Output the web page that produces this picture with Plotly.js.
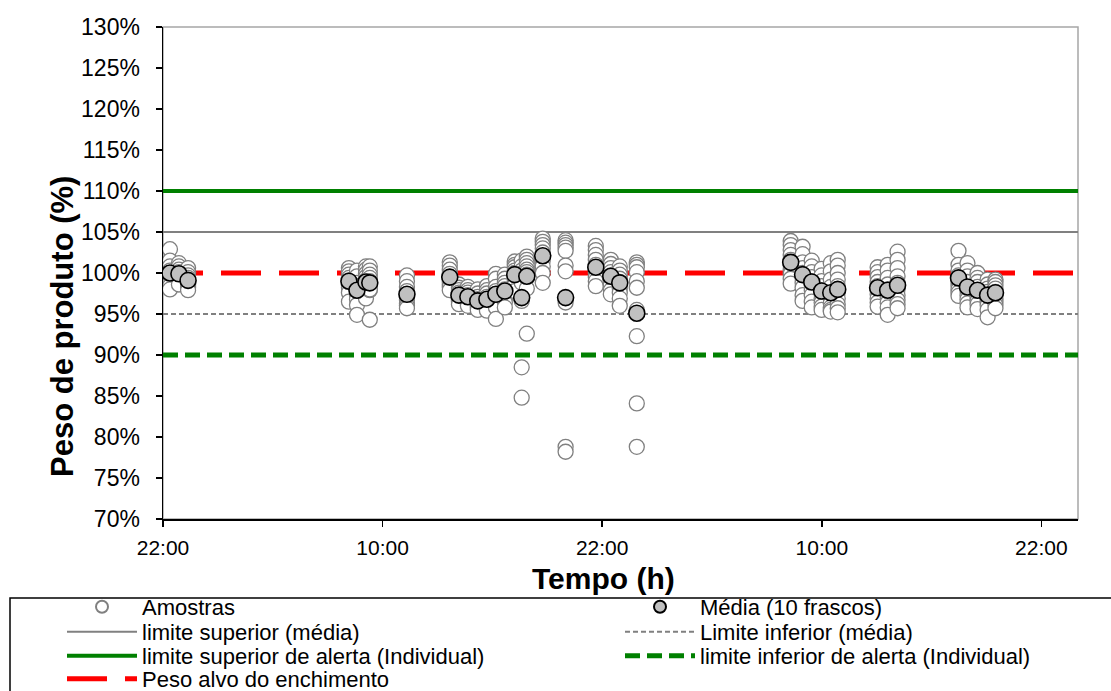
<!DOCTYPE html>
<html>
<head>
<meta charset="utf-8">
<script src="https://cdn.plot.ly/plotly-3.0.1.min.js"></script>
<style>html,body{margin:0;padding:0;background:#fff;}#chart{width:1111px;height:691px;}</style>
</head>
<body>
<div id="chart"></div>
<script>
// Time of each column of 10 samples (hours after the first 22:00)
const sampleTimes = [0.38, 0.87, 1.37, 10.16, 10.6, 11.09, 11.3, 13.33, 15.67, 16.17, 16.66, 17.2, 17.7, 18.19, 18.68, 19.22, 19.6, 19.88, 20.75, 22.0, 23.65, 24.47, 24.96, 25.89, 34.3, 34.95, 35.45, 35.99, 36.49, 36.87, 39.05, 39.6, 40.14, 43.47, 43.96, 44.51, 45.06, 45.49];
// Individual samples (%) per column
const amostras = [
  [102.9, 101.5, 100.8, 100.3, 99.9, 99.6, 99.2, 98.8, 98.4, 98.0],
  [101.2, 100.8, 100.4, 100.1, 99.9, 99.7, 99.5, 99.2, 98.9, 98.6],
  [100.6, 100.1, 99.7, 99.4, 99.1, 98.9, 98.6, 98.4, 98.2, 97.9],
  [100.6, 100.2, 99.8, 99.4, 99.1, 98.8, 98.5, 98.2, 97.6, 96.5],
  [100.3, 99.6, 98.8, 98.4, 98.0, 97.7, 97.3, 96.8, 96.1, 94.9],
  [100.8, 100.4, 99.9, 99.5, 99.1, 98.8, 98.4, 97.9, 97.4, 96.9],
  [100.8, 100.3, 99.8, 99.4, 99.0, 98.6, 98.3, 97.9, 98.0, 94.3],
  [99.7, 99.0, 98.3, 97.8, 97.4, 97.1, 96.7, 96.3, 96.0, 95.7],
  [101.3, 100.9, 100.4, 99.9, 99.5, 99.2, 98.9, 98.6, 98.3, 97.9],
  [98.6, 98.2, 97.9, 97.6, 97.3, 97.1, 96.9, 96.7, 96.5, 96.2],
  [98.3, 97.9, 97.6, 97.3, 97.1, 96.9, 96.7, 96.5, 96.3, 96.0],
  [98.0, 97.5, 97.1, 96.8, 96.6, 96.4, 96.2, 96.0, 95.8, 95.5],
  [98.4, 97.9, 97.5, 97.1, 96.8, 96.5, 96.2, 95.9, 95.6, 95.4],
  [99.9, 99.3, 98.3, 97.8, 97.4, 97.1, 96.7, 96.3, 95.8, 94.4],
  [99.8, 99.3, 98.8, 98.4, 98.0, 97.6, 97.2, 96.8, 96.4, 95.8],
  [101.4, 101.0, 100.7, 100.3, 100.0, 99.7, 99.4, 99.0, 98.5, 97.8],
  [101.5, 100.8, 100.3, 99.9, 99.6, 99.2, 98.8, 96.6, 88.5, 84.8],
  [102.0, 101.6, 101.2, 100.8, 100.4, 100.1, 99.8, 99.4, 98.1, 92.6],
  [104.2, 103.8, 103.4, 103.0, 102.5, 102.0, 101.5, 100.8, 100.0, 98.8],
  [104.0, 103.7, 103.4, 103.1, 102.7, 100.9, 100.2, 96.4, 78.8, 78.2],
  [103.3, 102.8, 102.2, 101.6, 101.0, 100.5, 100.0, 99.5, 99.0, 98.4],
  [101.6, 101.1, 100.6, 100.1, 99.7, 99.3, 98.9, 98.5, 97.9, 97.4],
  [100.8, 100.3, 99.8, 99.3, 98.9, 98.5, 98.1, 97.6, 96.9, 96.0],
  [101.3, 101.0, 100.7, 100.1, 99.0, 98.2, 95.5, 92.3, 84.1, 78.8],
  [103.9, 103.4, 102.8, 102.2, 101.6, 101.0, 100.4, 99.9, 99.3, 98.7],
  [103.2, 102.3, 101.3, 100.6, 100.0, 99.4, 98.8, 98.2, 97.3, 96.6],
  [101.5, 100.8, 100.1, 99.5, 99.0, 98.5, 97.9, 97.3, 96.5, 95.8],
  [100.5, 99.7, 99.0, 98.4, 97.9, 97.4, 96.9, 96.4, 95.9, 95.5],
  [101.2, 100.2, 99.2, 98.3, 97.5, 96.9, 96.3, 95.8, 95.5, 95.3],
  [101.6, 100.9, 100.0, 99.2, 98.4, 97.6, 96.9, 96.2, 95.7, 95.2],
  [100.7, 100.1, 99.5, 98.9, 98.4, 97.9, 97.4, 96.9, 96.4, 95.9],
  [101.0, 100.3, 99.4, 98.6, 98.0, 97.5, 97.0, 96.4, 95.8, 94.9],
  [102.6, 101.6, 100.6, 99.6, 98.8, 98.0, 97.3, 96.7, 96.2, 95.7],
  [102.7, 101.0, 100.3, 99.7, 99.2, 98.8, 98.4, 98.0, 97.6, 97.2],
  [101.2, 100.3, 99.6, 98.9, 98.3, 97.8, 97.3, 96.8, 96.3, 95.8],
  [100.0, 99.4, 98.9, 98.3, 97.9, 97.4, 97.0, 96.6, 96.2, 95.6],
  [99.2, 98.6, 98.1, 97.7, 97.3, 96.9, 96.5, 96.1, 95.5, 94.6],
  [99.2, 98.9, 98.5, 98.1, 97.7, 97.3, 96.9, 96.5, 96.1, 95.7]
];
// Mean of each column (%)
const media = [100.0, 99.9, 99.1, 99.0, 97.9, 98.9, 98.8, 97.4, 99.5, 97.3, 97.1, 96.6, 96.8, 97.4, 97.8, 99.8, 97.0, 99.6, 102.1, 97.0, 100.7, 99.6, 98.8, 95.1, 101.3, 99.8, 98.9, 97.8, 97.6, 98.0, 98.2, 97.9, 98.5, 99.4, 98.3, 97.9, 97.3, 97.6];

// Control limits (%)
const limiteSuperiorMedia = 105;
const limiteInferiorMedia = 95;
const limiteSuperiorAlerta = 110;
const limiteInferiorAlerta = 90;
const pesoAlvo = 100;

// Axis
const tempoRange = [0, 50];
const tickHours = [0, 12, 24, 36, 48];
const tickLabels = ['22:00', '10:00', '22:00', '10:00', '22:00'];

const sx = [], sy = [];
sampleTimes.forEach((t, i) => amostras[i].forEach(v => { sx.push(t); sy.push(v); }));

function limitLine(name, val, color, width, dash, legend) {
  return {x: tempoRange, y: [val, val], mode: 'lines', name: name,
    line: {color: color, width: width, dash: dash}, legend: legend, hoverinfo: 'skip'};
}

const traces = [
  limitLine('limite superior (média)', limiteSuperiorMedia, '#808080', 2, 'solid', 'legend3'),
  limitLine('Limite inferior (média)', limiteInferiorMedia, '#808080', 2, '5px,3px', 'legend4'),
  limitLine('limite superior de alerta (Individual)', limiteSuperiorAlerta, '#008000', 4, 'solid', 'legend5'),
  limitLine('limite inferior de alerta (Individual)', limiteInferiorAlerta, '#008000', 5, '15px,7px', 'legend6'),
  limitLine('Peso alvo do enchimento', pesoAlvo, '#ff0000', 5, '40px,18px', 'legend7'),
  {x: sx, y: sy, mode: 'markers', name: 'Amostras', legend: 'legend',
    marker: {symbol: 'circle', size: 15, color: '#ffffff', line: {color: '#808080', width: 1.3}}},
  {x: sampleTimes, y: media, mode: 'markers', name: 'Média (10 frascos)', legend: 'legend2',
    marker: {symbol: 'circle', size: 16, color: '#c0c0c0', line: {color: '#000000', width: 1.6}}}
];

const W = 915, H = 492, L = 163, T = 27;
function px(x) { return (x - L) / W; }
function py(y) { return (T + H - y) / H; }

function leg(xText, yc, constant) {
  return {
    xref: 'container', yref: 'container',
    x: (xText - 80) / 1111, y: 1 - yc / 691, xanchor: 'left', yanchor: 'middle',
    orientation: 'v', bgcolor: 'rgba(0,0,0,0)', borderwidth: 0,
    font: {size: 22}, itemwidth: 70, itemsizing: constant ? 'constant' : 'trace'
  };
}

const layout = {
  width: 1111, height: 691,
  margin: {l: L, r: 33, t: T, b: 172, autoexpand: false},
  paper_bgcolor: '#ffffff', plot_bgcolor: '#ffffff',
  font: {family: 'Liberation Sans, Arial, sans-serif', color: '#000000', size: 20},
  showlegend: true,
  xaxis: {
    range: tempoRange, tickvals: tickHours, ticktext: tickLabels,
    showgrid: false, zeroline: false, showline: true, linecolor: '#000000', linewidth: 1.5,
    ticks: 'outside', ticklen: 6, tickcolor: '#000000', tickwidth: 1.5,
    tickfont: {size: 21}, ticklabelstandoff: 3
  },
  yaxis: {
    range: [70, 130], dtick: 5, tick0: 70, ticksuffix: '%',
    showgrid: false, zeroline: false, showline: true, linecolor: '#000000', linewidth: 1.5,
    ticks: 'outside', ticklen: 6, tickcolor: '#000000', tickwidth: 1.5,
    tickfont: {size: 23}, ticklabelstandoff: 11
  },
  annotations: [
    {text: '<b>Peso de produto (%)</b>', xref: 'paper', yref: 'paper',
      x: px(62), y: py(327), xanchor: 'center', yanchor: 'middle', textangle: -90,
      showarrow: false, font: {size: 31}},
    {text: '<b>Tempo (h)</b>', xref: 'paper', yref: 'paper',
      x: px(603), y: py(578), xanchor: 'center', yanchor: 'middle',
      showarrow: false, font: {size: 30}}
  ],
  legend: leg(142, 607, true),
  legend2: leg(700, 607, true),
  legend3: leg(142, 632, false),
  legend4: leg(700, 632, false),
  legend5: leg(142, 656, false),
  legend6: leg(700, 656, false),
  legend7: leg(142, 679, false),
  shapes: [
    {type: 'rect', xref: 'paper', yref: 'paper', x0: 0, x1: 1, y0: 0, y1: 1,
      line: {color: '#a6a6a6', width: 1.5}, layer: 'below'},
    {type: 'rect', xref: 'paper', yref: 'paper', x0: px(10), x1: px(1120), y0: py(598), y1: py(700),
      line: {color: '#000000', width: 1.5}, fillcolor: 'rgba(0,0,0,0)'}
  ]
};

Plotly.newPlot('chart', traces, layout, {displayModeBar: false, staticPlot: true});
</script>
</body>
</html>
